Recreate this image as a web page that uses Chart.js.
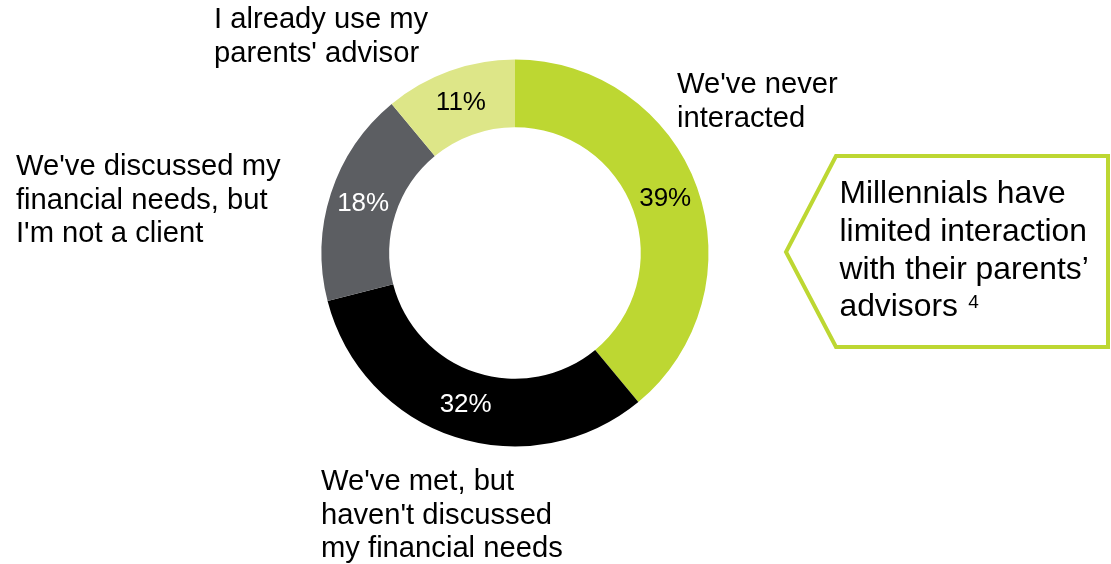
<!DOCTYPE html>
<html>
<head>
<meta charset="utf-8">
<title>Millennials and their parents' advisors</title>
<script src="https://cdn.jsdelivr.net/npm/chart.js@4.4.1/dist/chart.umd.min.js"></script>
<style>
  html, body { margin: 0; padding: 0; background: #fff; }
  #wrap { position: relative; width: 1111px; height: 564px; }
</style>
</head>
<body>
<div id="wrap"><canvas id="advisorChart" width="1111" height="564"></canvas></div>
<script>
// Survey answers, clockwise from 12 o'clock
const categories = [
    ["We've never", "interacted"],
    ["We've met, but", "haven't discussed", "my financial needs"],
    ["We've discussed my", "financial needs, but", "I'm not a client"],
    ["I already use my", "parents' advisor"]
];
const shares = [39, 32, 18, 11];
const sliceColors = ['#bdd732', '#000000', '#5c5e62', '#dde688'];
const valueColors = ['#000000', '#ffffff', '#ffffff', '#000000'];

const calloutLines = ["Millennials have", "limited interaction", "with their parents\u2019", "advisors"];
const calloutNote = "4";

const FONT = '"Liberation Sans", Arial, Helvetica, sans-serif';
const GREEN = '#bdd732';

// where each category caption starts (left edge, first baseline)
const captionPos = [
    { x: 677, y: 93 },
    { x: 321, y: 490 },
    { x: 16, y: 175 },
    { x: 214, y: 28 }
];

const sliceLabels = {
    id: 'sliceLabels',
    afterDatasetsDraw(chart) {
        const { ctx } = chart;
        const meta = chart.getDatasetMeta(0);
        ctx.save();
        ctx.font = `26px ${FONT}`;
        ctx.textAlign = 'center';
        ctx.textBaseline = 'middle';
        meta.data.forEach((arc, i) => {
            const p = arc.getCenterPoint();
            ctx.fillStyle = valueColors[i];
            ctx.fillText(shares[i] + '%', p.x, p.y);
        });
        ctx.restore();
    }
};

const captions = {
    id: 'captions',
    afterDraw(chart) {
        const { ctx } = chart;
        ctx.save();
        ctx.fillStyle = '#000';
        ctx.textAlign = 'left';
        ctx.textBaseline = 'alphabetic';
        ctx.font = `29.2px ${FONT}`;
        chart.data.labels.forEach((lines, i) => {
            lines.forEach((line, j) => {
                ctx.fillText(line, captionPos[i].x, captionPos[i].y + j * 33.5);
            });
        });

        // arrow-shaped callout box on the right
        ctx.strokeStyle = GREEN;
        ctx.lineWidth = 4;
        ctx.lineJoin = 'miter';
        ctx.beginPath();
        ctx.moveTo(836, 156);
        ctx.lineTo(1108, 156);
        ctx.lineTo(1108, 347);
        ctx.lineTo(836, 347);
        ctx.lineTo(786, 252);
        ctx.closePath();
        ctx.stroke();

        ctx.font = `31.8px ${FONT}`;
        calloutLines.forEach((line, j) => {
            ctx.fillText(line, 839.5, 203 + j * 37.8);
        });
        // footnote marker raised after the last line
        const last = calloutLines[calloutLines.length - 1];
        const w = ctx.measureText(last + ' ').width;
        ctx.font = `19px ${FONT}`;
        ctx.fillText(calloutNote, 841 + w, 203 + 3 * 37.8 - 8);
        ctx.restore();
    }
};

new Chart(document.getElementById('advisorChart'), {
    type: 'doughnut',
    data: {
        labels: categories,
        datasets: [{
            data: shares,
            backgroundColor: sliceColors,
            borderWidth: 0,
            hoverOffset: 0
        }]
    },
    options: {
        responsive: false,
        animation: false,
        cutout: '65%',
        layout: {
            padding: { left: 321.5, right: 402.5, top: 59.5, bottom: 117.5 }
        },
        plugins: {
            legend: { display: false },
            tooltip: { enabled: false }
        }
    },
    plugins: [sliceLabels, captions]
});
</script>
</body>
</html>
